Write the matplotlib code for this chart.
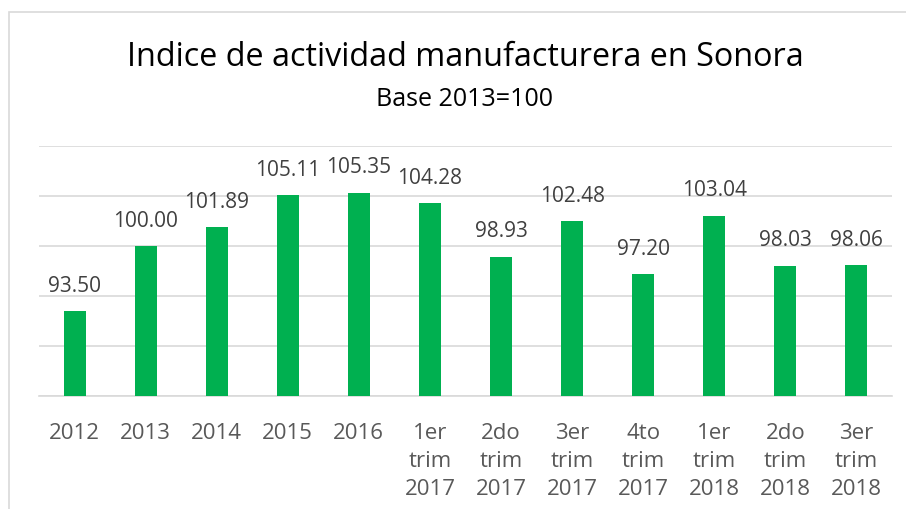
import matplotlib.pyplot as plt
from matplotlib.patches import Rectangle

plt.rcParams['font.family'] = ['Open Sans', 'DejaVu Sans']

categorias = ['2012', '2013', '2014', '2015', '2016',
              '1er\ntrim\n2017', '2do\ntrim\n2017', '3er\ntrim\n2017', '4to\ntrim\n2017',
              '1er\ntrim\n2018', '2do\ntrim\n2018', '3er\ntrim\n2018']
valores = [93.50, 100.00, 101.89, 105.11, 105.35, 104.28, 98.93, 102.48, 97.20, 103.04, 98.03, 98.06]

W, H = 906, 510
fig = plt.figure(figsize=(W / 100, H / 100), dpi=100)
ax = fig.add_axes([39 / W, 1 - 397 / H, (892 - 39) / W, (397 - 147) / H])

# marco del grafico
fig.patches.append(Rectangle((9 / W, -0.1), 1.2, 1 - 13 / H + 0.1, transform=fig.transFigure,
                             fill=False, edgecolor='#d9d9d9', linewidth=1.2))

x = range(len(valores))
ax.bar(x, valores, width=0.31, color='#00b050', zorder=3)
ax.set_xlim(-0.5, len(valores) - 0.5)
ax.set_ylim(85, 110)
ax.set_yticks([85, 90, 95, 100, 105, 110])
ax.yaxis.grid(True, color='#d9d9d9', linewidth=1.2, zorder=0)
ax.set_yticklabels([])
ax.tick_params(axis='y', length=0)
ax.tick_params(axis='x', length=0, pad=18.5)
ax.set_xticks(list(x))
ax.set_xticklabels(categorias, fontsize=16, color='#595959', linespacing=1.45)
for s in ['top', 'right', 'left']:
    ax.spines[s].set_visible(False)
ax.spines['bottom'].set_color('#d9d9d9')
ax.spines['bottom'].set_linewidth(1.2)

for i, v in enumerate(valores):
    ax.annotate('%.2f' % v, (i, v), xytext=(0, 11), textcoords='offset points',
                ha='center', va='bottom', fontsize=15, color='#404040')

fig.text(465 / W, 1 - 58 / H, 'Indice de actividad manufacturera en Sonora',
         ha='center', va='center', fontsize=23.3, color='black')
fig.text(465 / W, 1 - 99 / H, 'Base 2013=100', ha='center', va='center', fontsize=18, color='black')

fig.savefig('out.png', dpi=100)
